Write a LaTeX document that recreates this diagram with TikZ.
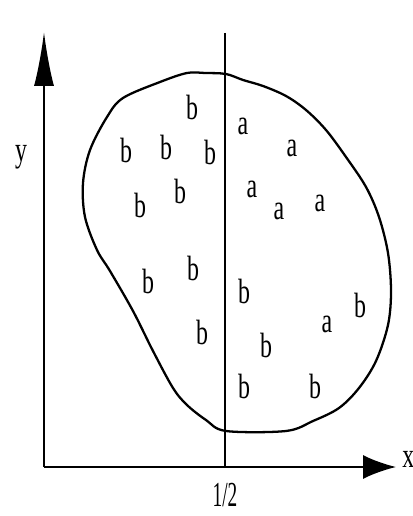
\documentclass[tikz,border=0pt]{standalone}
\usepackage{fontspec}
\setmainfont{Liberation Serif}
\usetikzlibrary{arrows.meta}
\newcommand{\estreito}[1]{\scalebox{0.68}[1]{#1}}

\begin{document}
\begin{tikzpicture}[
    x=0.02cm, y=-0.02cm,
    every node/.style={font=\fontsize{20}{20}\selectfont, inner sep=0pt}
]
\useasboundingbox (0,0) rectangle (412,516);

% ------------------------------------------------
% Eixos
% ------------------------------------------------

\coordinate (origem) at (44,467);
\coordinate (topoy) at (44,32);
\coordinate (fimx) at (396,467);
\coordinate (metadetopo) at (225,33);
\coordinate (metadebase) at (225,467);

\draw[
    line width=1.1pt,
    -{Latex[length=1.08cm, width=0.4cm]}
] (origem) -- (topoy);

\draw[
    line width=1.1pt,
    -{Latex[length=0.66cm, width=0.48cm]}
] (origem) -- (fimx);

\draw[line width=0.8pt] (metadetopo) -- (metadebase);

\node (rotuloy) at (21,157) {\estreito{y}};
\node[anchor=west] (rotulox) at (402,459) {\estreito{x}};
\node (rotulometade) at (225,495) {\scalebox{0.55}[1]{1/2}};

% ------------------------------------------------
% Contorno
% ------------------------------------------------

\draw[line width=1.3pt] plot[smooth cycle, tension=0.55] coordinates {
    (226,74) (243,80) (263,86) (286,96) (306,110) (326,130)
    (346,157) (366,187) (379,217) (388,253) (391,291) (388,325)
    (376,361) (359,388) (339,408) (313,421) (286,431) (226,431)
    (206,420) (187,405) (173,388) (153,351) (133,311) (110,271)
    (97,250) (85,217) (83,183) (90,150) (107,117) (123,98)
    (160,82) (187,73) (205,73)
};

% ------------------------------------------------
% Letras a esquerda
% ------------------------------------------------

\node (b1) at (192,107) {\estreito{b}};
\node (b2) at (126,150) {\estreito{b}};
\node (b3) at (166,147) {\estreito{b}};
\node (b4) at (210,152) {\estreito{b}};
\node (b5) at (140,205) {\estreito{b}};
\node (b6) at (180,191) {\estreito{b}};
\node (b7) at (148,281) {\estreito{b}};
\node (b8) at (193,268) {\estreito{b}};
\node (b9) at (202,332) {\estreito{b}};

% ------------------------------------------------
% Letras a direita
% ------------------------------------------------

\node (a1) at (243,126) {\estreito{a}};
\node (a2) at (292,148) {\estreito{a}};
\node (a3) at (252,189) {\estreito{a}};
\node (a4) at (279,211) {\estreito{a}};
\node (a5) at (320,203) {\estreito{a}};
\node (a6) at (327,324) {\estreito{a}};

\node (b10) at (244,291) {\estreito{b}};
\node (b11) at (360,305) {\estreito{b}};
\node (b12) at (266,345) {\estreito{b}};
\node (b13) at (244,386) {\estreito{b}};
\node (b14) at (315,386) {\estreito{b}};

\end{tikzpicture}
\end{document}
